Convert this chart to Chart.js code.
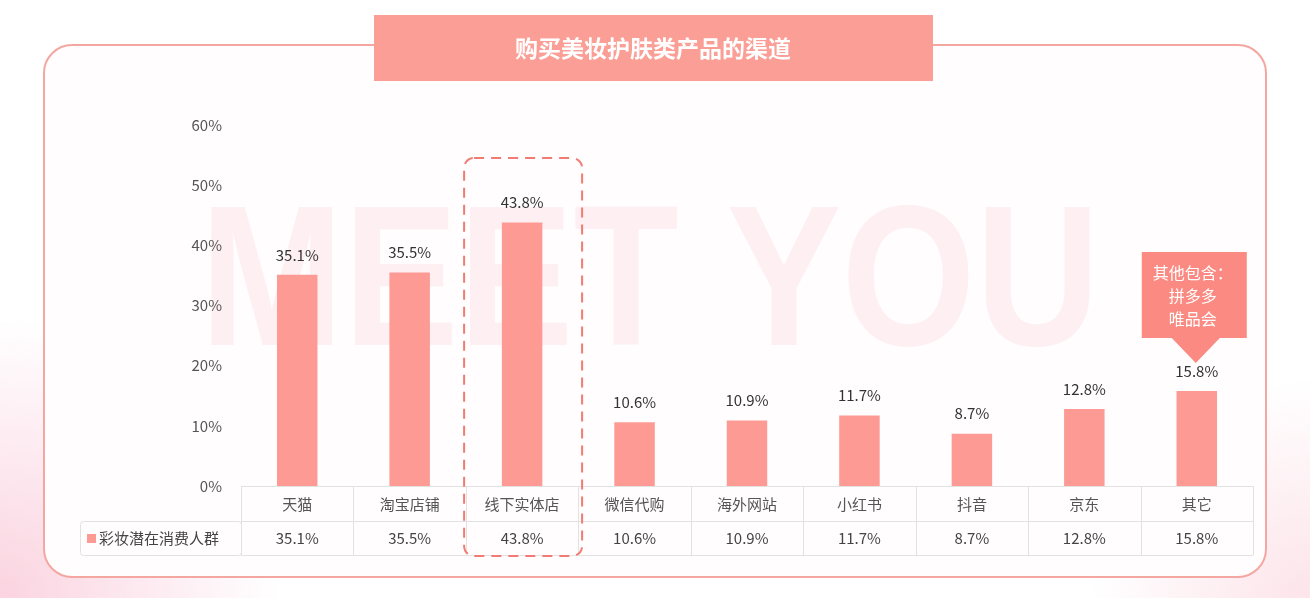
<!DOCTYPE html>
<html>
<head>
<meta charset="utf-8">
<script src="https://cdn.jsdelivr.net/npm/chart.js@4.4.1/dist/chart.umd.min.js"></script>
<style>
  html, body { margin: 0; padding: 0; background: #fff; }
  #wrap { position: relative; width: 1310px; height: 598px; }
</style>
</head>
<body>
<div id="wrap"><canvas id="channelChart" width="1310" height="598"></canvas></div>
<script>
// Data
const categories = ['天猫', '淘宝店铺', '线下实体店', '微信代购', '海外网站', '小红书', '抖音', '京东', '其它'];
const shareValues = [35.1, 35.5, 43.8, 10.6, 10.9, 11.7, 8.7, 12.8, 15.8];
const seriesName = '彩妆潜在消费人群';
const chartTitle = '购买美妆护肤类产品的渠道';
const calloutLines = ['其他包含：', '拼多多', '唯品会'];
const highlightIndex = 2;
const calloutIndex = 8;

const barColor = '#fc9a93';
const frameColor = '#f4a7a0';
const lineColor = '#e2e2e2';
const textColor = '#444';
const fontFamily = '"Noto Sans CJK SC", "Noto Sans", sans-serif';

function roundRect(ctx, x, y, w, h, r) {
    ctx.beginPath();
    ctx.moveTo(x + r, y);
    ctx.lineTo(x + w - r, y);
    ctx.arcTo(x + w, y, x + w, y + r, r);
    ctx.lineTo(x + w, y + h - r);
    ctx.arcTo(x + w, y + h, x + w - r, y + h, r);
    ctx.lineTo(x + r, y + h);
    ctx.arcTo(x, y + h, x, y + h - r, r);
    ctx.lineTo(x, y + r);
    ctx.arcTo(x, y, x + r, y, r);
    ctx.closePath();
}

// background, frame, watermark, title
const backdropPlugin = {
    id: 'backdrop',
    beforeDraw(chart) {
        const ctx = chart.ctx;
        ctx.save();
        // soft pink corners
        let g = ctx.createRadialGradient(0, 598, 10, 0, 598, 280);
        g.addColorStop(0, 'rgba(248, 185, 205, 0.6)');
        g.addColorStop(1, 'rgba(248, 185, 205, 0)');
        ctx.fillStyle = g;
        ctx.fillRect(0, 300, 400, 298);
        g = ctx.createRadialGradient(1310, 598, 10, 1310, 598, 220);
        g.addColorStop(0, 'rgba(248, 190, 205, 0.4)');
        g.addColorStop(1, 'rgba(248, 190, 205, 0)');
        ctx.fillStyle = g;
        ctx.fillRect(1000, 300, 310, 298);

        // frame
        roundRect(ctx, 44, 45, 1222, 532, 28);
        ctx.fillStyle = '#fffdfd';
        ctx.fill();
        ctx.strokeStyle = frameColor;
        ctx.lineWidth = 2;
        ctx.stroke();

        // watermark
        ctx.font = 'bold 200px "Liberation Sans", sans-serif';
        const wmText = 'MEET YOU';
        const w = ctx.measureText(wmText).width;
        ctx.translate(200, 345);
        ctx.scale(900 / w, 1.0);
        ctx.fillStyle = 'rgba(250, 200, 212, 0.25)';
        ctx.textBaseline = 'alphabetic';
        ctx.fillText(wmText, 0, 0);
        ctx.restore();

        // title box
        ctx.save();
        ctx.fillStyle = '#fb9e96';
        ctx.fillRect(374, 15, 559, 66);
        ctx.fillStyle = '#fff';
        ctx.font = 'bold 23px ' + fontFamily;
        ctx.textAlign = 'center';
        ctx.textBaseline = 'middle';
        ctx.fillText(chartTitle, 653, 48);
        ctx.restore();
    },
    afterDraw(chart) {
        const ctx = chart.ctx;
        const xs = chart.scales.x;
        const area = chart.chartArea;
        const rowTop = area.bottom;
        const rowMid = rowTop + 35;
        const rowBottom = rowTop + 69;
        const colW = (area.right - area.left) / categories.length;
        ctx.save();

        // table lines
        ctx.strokeStyle = lineColor;
        ctx.lineWidth = 1;
        ctx.beginPath();
        ctx.moveTo(area.left, rowTop + 0.5);
        ctx.lineTo(area.right, rowTop + 0.5);
        ctx.moveTo(area.left, rowMid + 0.5);
        ctx.lineTo(area.right, rowMid + 0.5);
        ctx.moveTo(area.left, rowBottom + 0.5);
        ctx.lineTo(area.right, rowBottom + 0.5);
        for (let i = 0; i <= categories.length; i++) {
            const x = Math.round(area.left + i * colW) + 0.5;
            ctx.moveTo(x, rowTop);
            ctx.lineTo(x, rowBottom);
        }
        ctx.stroke();
        roundRect(ctx, 80.5, rowMid + 0.5, area.left - 80, 34, 3);
        ctx.stroke();

        // legend cell
        ctx.fillStyle = barColor;
        ctx.fillRect(87, rowMid + 13, 9, 9);
        ctx.fillStyle = textColor;
        ctx.font = '15px ' + fontFamily;
        ctx.textBaseline = 'middle';
        ctx.textAlign = 'left';
        ctx.fillText(seriesName, 99, rowMid + 17);

        // data row
        ctx.textAlign = 'center';
        shareValues.forEach((v, i) => {
            ctx.fillText(v.toFixed(1) + '%', xs.getPixelForValue(i), rowMid + 17);
        });

        // bar value labels
        const meta = chart.getDatasetMeta(0);
        ctx.fillStyle = '#333';
        meta.data.forEach((bar, i) => {
            ctx.fillText(shareValues[i].toFixed(1) + '%', bar.x, bar.y - 20);
        });

        // dashed highlight
        const hx = xs.getPixelForValue(highlightIndex);
        ctx.strokeStyle = '#f07b73';
        ctx.lineWidth = 2;
        ctx.setLineDash([10, 7]);
        roundRect(ctx, hx - 58, 158, 118, rowBottom - 158 + 1, 10);
        ctx.stroke();
        ctx.setLineDash([]);

        // callout
        const cx = xs.getPixelForValue(calloutIndex);
        ctx.fillStyle = '#fb8a82';
        ctx.fillRect(cx - 55, 252, 105, 86);
        ctx.beginPath();
        ctx.moveTo(cx - 26, 337);
        ctx.lineTo(cx + 24, 337);
        ctx.lineTo(cx - 1, 363);
        ctx.closePath();
        ctx.fill();
        ctx.fillStyle = '#fff';
        ctx.font = '16px ' + fontFamily;
        calloutLines.forEach((t, i) => {
            ctx.fillText(t, cx - 4, 273 + i * 23);
        });
        ctx.restore();
    }
};

const ctx = document.getElementById('channelChart').getContext('2d');
new Chart(ctx, {
    type: 'bar',
    data: {
        labels: categories,
        datasets: [{
            label: seriesName,
            data: shareValues,
            backgroundColor: barColor,
            barPercentage: 0.36,
            categoryPercentage: 1.0
        }]
    },
    options: {
        responsive: false,
        animation: false,
        events: [],
        layout: { padding: { left: 181, right: 57, top: 125, bottom: 77 } },
        plugins: {
            legend: { display: false },
            tooltip: { enabled: false }
        },
        scales: {
            x: {
                grid: { display: false, drawTicks: false },
                border: { display: false },
                ticks: {
                    padding: 9,
                    color: '#555',
                    font: { size: 15, family: fontFamily }
                },
                afterFit(scale) { scale.height = 35; }
            },
            y: {
                min: 0,
                max: 60,
                grid: { display: false, drawTicks: false },
                border: { display: false },
                ticks: {
                    stepSize: 10,
                    padding: 19,
                    color: '#555',
                    font: { size: 15, family: fontFamily },
                    callback: v => v + '%'
                },
                afterFit(scale) { scale.width = 60; }
            }
        }
    },
    plugins: [backdropPlugin]
});
</script>
</body>
</html>
